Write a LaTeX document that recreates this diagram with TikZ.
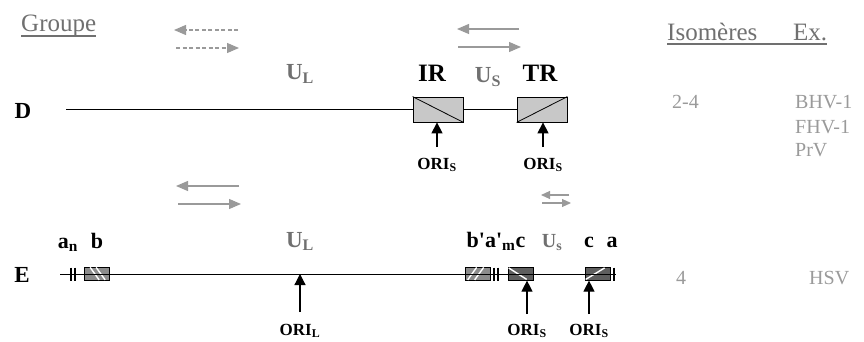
\documentclass[tikz,border=0pt]{standalone}
\usepackage{fontspec}
\setmainfont{Liberation Serif}
\usetikzlibrary{arrows.meta}
\definecolor{txtgray}{HTML}{707070}
\definecolor{lgray}{HTML}{9A9A9A}
\definecolor{boxfill}{HTML}{C8C8C8}
\definecolor{midfill}{HTML}{8C8C8C}
\definecolor{darkfill}{HTML}{5E5E5E}
\begin{document}
\begin{tikzpicture}[x=1pt,y=-1pt,
  hdr/.style={font=\fontsize{25}{25}\selectfont, text=txtgray, inner sep=0, anchor=base west},
  rowlbl/.style={font=\bfseries\fontsize{23}{23}\selectfont, inner sep=0},
  seg/.style={font=\bfseries\fontsize{25}{25}\selectfont, inner sep=0, anchor=base},
  useg/.style={font=\bfseries\fontsize{23}{23}\selectfont, text=txtgray, inner sep=0, anchor=base},
  eseg/.style={font=\bfseries\fontsize{22}{22}\selectfont, inner sep=0, anchor=base},
  ori/.style={font=\bfseries\fontsize{17}{17}\selectfont, inner sep=0, anchor=base},
  info/.style={font=\fontsize{20}{20}\selectfont, text=lgray, inner sep=0, anchor=base west},
  repbox/.style={draw=black, fill=boxfill, minimum width=50pt, minimum height=25pt, inner sep=0, line width=0.8pt},
  sbox/.style={draw=black, minimum width=25pt, minimum height=12.5pt, inner sep=0, line width=0.7pt},
  orient/.style={draw=lgray, line width=1.1pt, -{Triangle[length=12pt,width=10pt]}},
  sorient/.style={draw=lgray, line width=1.1pt, -{Triangle[length=9pt,width=8pt]}},
  dorient/.style={orient, dash pattern=on 4pt off 2.5pt},
  oriarrow/.style={draw=black, line width=1.2pt, -{Triangle[length=11pt,width=11pt]}},
  bar/.style={draw=black, line width=2.8pt},
  hatch/.style={draw=white, line width=1.4pt},
  genome/.style={draw=black, line width=0.9pt}
]
\useasboundingbox (0,0) rectangle (864,342);

% ---- headers
\node[hdr] (grp) at (21,32) {Groupe};
\draw[txtgray, line width=1.3pt] ([yshift=-4pt]grp.base west) -- ([yshift=-4pt]grp.base east);
\node[hdr] (iso) at (667,41) {Isomères};
\node[hdr] (ex) at (793,41) {Ex.};
\draw[txtgray, line width=1.3pt] ([yshift=-3pt]iso.base west) -- ([yshift=-3pt]ex.base east);

% ---- orientation arrows (row D)
\coordinate (d1a) at (238,30); \coordinate (d1b) at (174,30);
\coordinate (d2a) at (176,48); \coordinate (d2b) at (239,48);
\draw[dorient] (d1a) -- (d1b);
\draw[dorient] (d2a) -- (d2b);
\coordinate (s1a) at (519,29); \coordinate (s1b) at (457,29);
\coordinate (s2a) at (458,47); \coordinate (s2b) at (521,47);
\draw[orient] (s1a) -- (s1b);
\draw[orient] (s2a) -- (s2b);

% ---- row D
\node[rowlbl] (D) at (23,111) {D};
\node[useg] (ULd) at (300,80) {U\textsubscript{L}};
\node[seg] (IRl) at (432,82) {IR};
\node[useg] (USd) at (488,83) {U\textsubscript{S}};
\node[seg] (TRl) at (540,82) {TR};
\coordinate (dstart) at (66,109.5);
\node[repbox] (IR) at (438,109.5) {};
\node[repbox] (TR) at (542,109.5) {};
\draw[genome] (dstart) -- (IR.west);
\draw[genome] (IR.east) -- (TR.west);
\draw[line width=0.8pt] (IR.north west) -- (IR.south east);
\draw[line width=0.8pt] (TR.south west) -- (TR.north east);
\coordinate (oIR) at (437,147);
\coordinate (oTR) at (543,147);
\draw[oriarrow] (oIR) -- (oIR |- IR.south);
\draw[oriarrow] (oTR) -- (oTR |- TR.south);
\node[ori] (oriIR) at (437,169) {ORI\textsubscript{S}};
\node[ori] (oriTR) at (543,169) {ORI\textsubscript{S}};
\node[info] (isoD) at (672,109) {2-4};
\node[info] (exD1) at (795,109) {BHV-1};
\node[info] (exD2) at (795,134) {FHV-1};
\node[info] (exD3) at (795,157) {PrV};

% ---- orientation arrows (row E)
\coordinate (e1a) at (239,186); \coordinate (e1b) at (176,186);
\coordinate (e2a) at (178,204); \coordinate (e2b) at (241,204);
\draw[orient] (e1a) -- (e1b);
\draw[orient] (e2a) -- (e2b);
\coordinate (f1a) at (569,195); \coordinate (f1b) at (541,195);
\coordinate (f2a) at (542,203); \coordinate (f2b) at (571,203);
\draw[sorient] (f1a) -- (f1b);
\draw[sorient] (f2a) -- (f2b);

% ---- row E
\node[rowlbl] (E) at (22,275) {E};
\node[eseg] (an) at (68,248) {a\textsubscript{n}};
\node[eseg] (bl) at (97,248) {b};
\node[useg] (ULe) at (300,247) {U\textsubscript{L}};
\node[eseg] (bpl) at (496,247) {b\textquotesingle a\textquotesingle\textsubscript{m}c};
\node[useg] (USe) at (552,247) {\fontsize{20}{20}\selectfont U\textsubscript{s}};
\node[eseg] (cl) at (589,247) {c};
\node[eseg] (al) at (612,247) {a};

\coordinate (estart) at (60,274);
\coordinate (eend) at (616,274);
\node[sbox, fill=midfill] (bb) at (97,274) {};
\node[sbox, fill=midfill] (bp) at (477.5,274) {};
\node[sbox, fill=darkfill] (cc) at (520.5,274) {};
\node[sbox, fill=darkfill] (aa) at (597.5,274) {};
% hatching
\draw[hatch] ([shift={(6,0)}]bb.north west) -- ([shift={(15,12.5)}]bb.north west);
\draw[hatch] ([shift={(12,0)}]bb.north west) -- ([shift={(21,12.5)}]bb.north west);
\draw[hatch] ([shift={(3,12.5)}]bp.north west) -- ([shift={(12,0)}]bp.north west);
\draw[hatch] ([shift={(10,12.5)}]bp.north west) -- ([shift={(19,0)}]bp.north west);
\draw[hatch] ([shift={(1,0.5)}]cc.north west) -- ([shift={(19,12)}]cc.north west);
\draw[hatch] ([shift={(1,12)}]aa.north west) -- ([shift={(20,0.5)}]aa.north west);
\draw[genome] (estart) -- (eend);
% terminal / junction bars
\coordinate (b1) at (71,274); \coordinate (b2) at (75,274);
\coordinate (b3) at (494,274); \coordinate (b4) at (498,274);
\coordinate (b5) at (614,274);
\foreach \b in {b1,b2,b3,b4,b5} \draw[bar] ([yshift=6.5pt]\b) -- ([yshift=-6.5pt]\b);

\coordinate (oL) at (300,312);
\coordinate (oc) at (527,314);
\coordinate (oa) at (589,314);
\draw[oriarrow] (oL) -- (oL |- estart);
\draw[oriarrow] (oc) -- (oc |- cc.south);
\draw[oriarrow] (oa) -- (oa |- aa.south);
\node[ori] (oriL) at (300,335) {ORI\textsubscript{L}};
\node[ori] (oric) at (527,335) {ORI\textsubscript{S}};
\node[ori] (oria) at (589,335) {ORI\textsubscript{S}};
\node[info] (isoE) at (676,284) {4};
\node[info] (exE) at (809,284) {HSV};
\end{tikzpicture}
\end{document}
